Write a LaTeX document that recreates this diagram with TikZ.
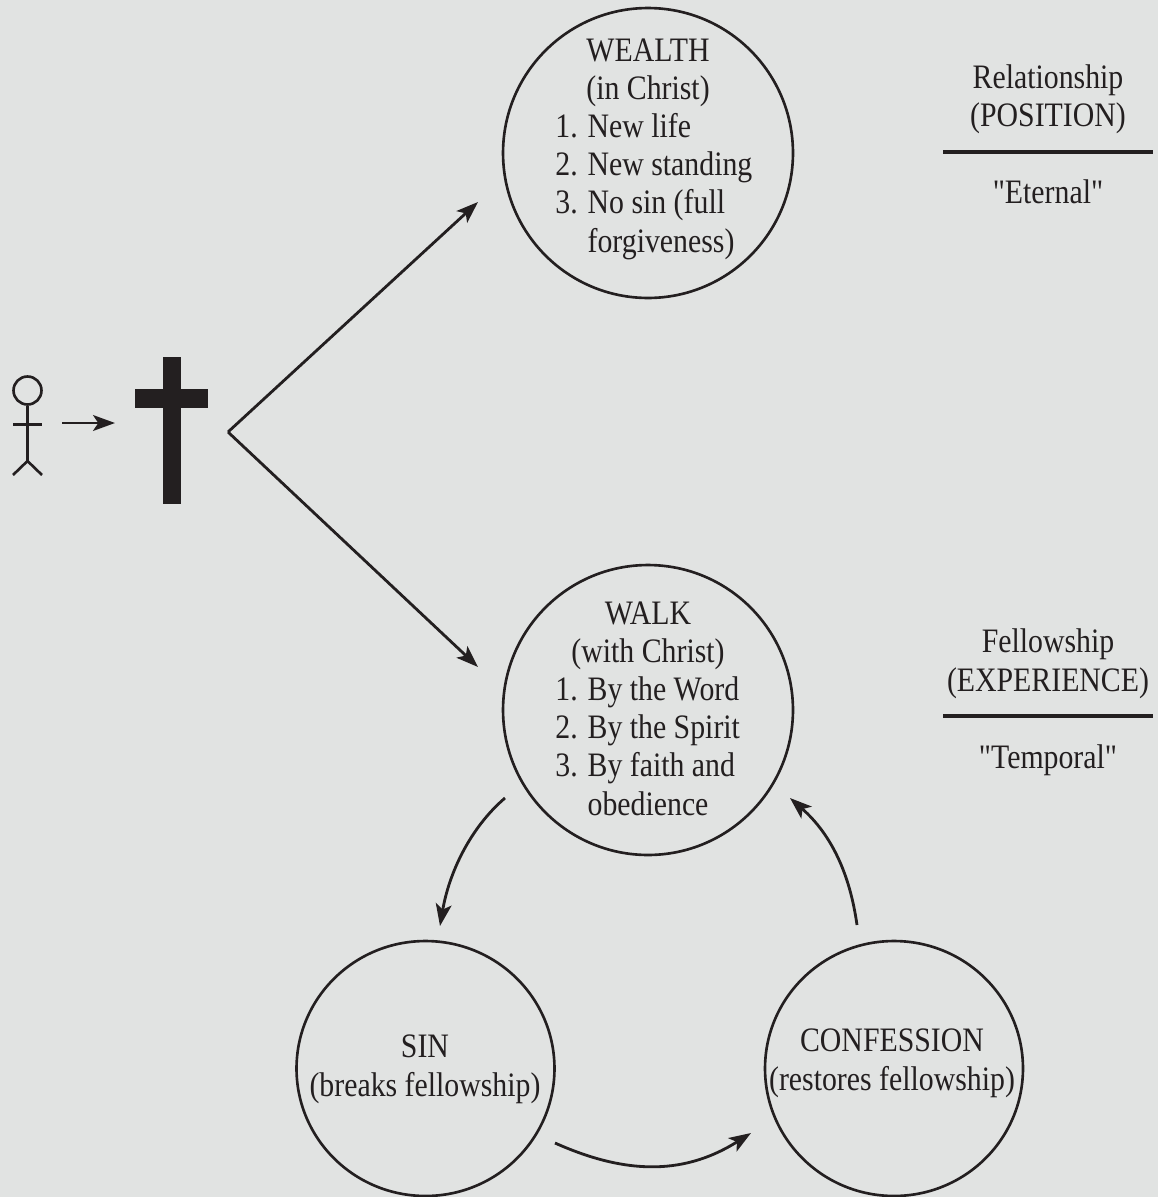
\documentclass[tikz,border=0pt]{standalone}
\usepackage{fontspec}
\setmainfont[FakeStretch=0.87,Ligatures=TeXOff]{Liberation Serif}
\definecolor{paper}{HTML}{E1E3E2}
\definecolor{ink}{HTML}{231F20}
\tikzset{
    every node/.style={text=ink, font=\fontsize{19.5pt}{21.7pt}\selectfont},
    bubble/.style={draw=ink, line width=1.5pt, ellipse, inner sep=0pt},
    label/.style={anchor=base, align=center, inner sep=0pt},
    items/.style={anchor=base west, align=left, inner sep=0pt},
    rule/.style={draw=ink, line width=1.8pt},
    stroke/.style={draw=ink, line width=1.5pt},
    flow/.style={draw=ink, line width=1.6pt, -{Stealth[length=12.5pt,width=9pt,inset=3pt]}},
}
\usetikzlibrary{arrows.meta,shapes.geometric}
\begin{document}
\begin{tikzpicture}[x=0.02cm, y=-0.02cm]
    \useasboundingbox (0,0) rectangle (1158,1197);
    \fill[paper] (0,0) rectangle (1158,1197);

    % person
    \node[stroke, circle, minimum size=0.56cm, inner sep=0pt] (head) at (27.5,390.5) {};
    \coordinate (hip) at (27.5,461);
    \coordinate (armL) at (13,424.5);
    \coordinate (armR) at (42,424.5);
    \coordinate (footL) at (13,475);
    \coordinate (footR) at (42,475);
    \draw[stroke] (head.south) -- (hip);
    \draw[stroke] (armL) -- (armR);
    \draw[stroke] (footL) -- (hip) -- (footR);

    % cross
    \fill[ink] (162.5,357) rectangle (181,504);
    \fill[ink] (135,389) rectangle (208,408);
    \coordinate (toCrossA) at (62,423);
    \coordinate (toCrossB) at (115,423);
    \draw[flow] (toCrossA) -- (toCrossB);

    % circles
    \node[bubble, minimum width=5.8cm, minimum height=5.8cm] (wealth) at (648,153) {};
    \node[bubble, minimum width=5.8cm, minimum height=5.8cm] (walk) at (648,710) {};
    \node[bubble, minimum width=5.16cm, minimum height=5.1cm] (sin) at (425.5,1068.5) {};
    \node[bubble, minimum width=5.16cm, minimum height=5.1cm] (confession) at (894,1068.5) {};

    % branches
    \coordinate (apex) at (228,432);
    \coordinate (wealthEnd) at (478,202);
    \coordinate (walkEnd) at (478,667);
    \draw[flow] (apex) -- (wealthEnd);
    \draw[flow] (apex) -- (walkEnd);

    % cycle
    \coordinate (walkOut) at (505,798);
    \coordinate (sinIn) at (440,926);
    \coordinate (sinOut) at (555,1143);
    \coordinate (confIn) at (751,1133);
    \coordinate (confOut) at (857,925);
    \coordinate (walkIn) at (790,798);
    \draw[flow] (walkOut) .. controls (470,828) and (449,873) .. (sinIn);
    \draw[flow] (sinOut) .. controls (620,1172) and (680,1178) .. (confIn);
    \draw[flow] (confOut) .. controls (850,875) and (832,835) .. (walkIn);

    % circle texts
    \node[label] (wealthHead) at (648,99.5) {WEALTH\\(in Christ)};
    \node[items] (wealthList) at (555,252) {1. New life\\2. New standing\\3. No sin (full\\\phantom{3. }forgiveness)};
    \node[label] (walkHead) at (648,662.5) {WALK\\(with Christ)};
    \node[items] (walkList) at (555,815) {1. By the Word\\2. By the Spirit\\3. By faith and\\\phantom{3. }obedience};
    \node[label] (sinText) at (425,1096) {SIN\\(breaks fellowship)};
    \node[label] (confText) at (892,1090) {CONFESSION\\(restores fellowship)};

    % right column
    \node[label] (relation) at (1048,126.5) {Relationship\\(POSITION)};
    \coordinate (ruleAL) at (943,152);
    \coordinate (ruleAR) at (1153,152);
    \draw[rule] (ruleAL) -- (ruleAR);
    \node[label] (eternal) at (1048,203) {"Eternal"};
    \node[label] (fellow) at (1048,691) {Fellowship\\(EXPERIENCE)};
    \coordinate (ruleBL) at (943,716);
    \coordinate (ruleBR) at (1153,716);
    \draw[rule] (ruleBL) -- (ruleBR);
    \node[label] (temporal) at (1048,768) {"Temporal"};
\end{tikzpicture}
\end{document}
